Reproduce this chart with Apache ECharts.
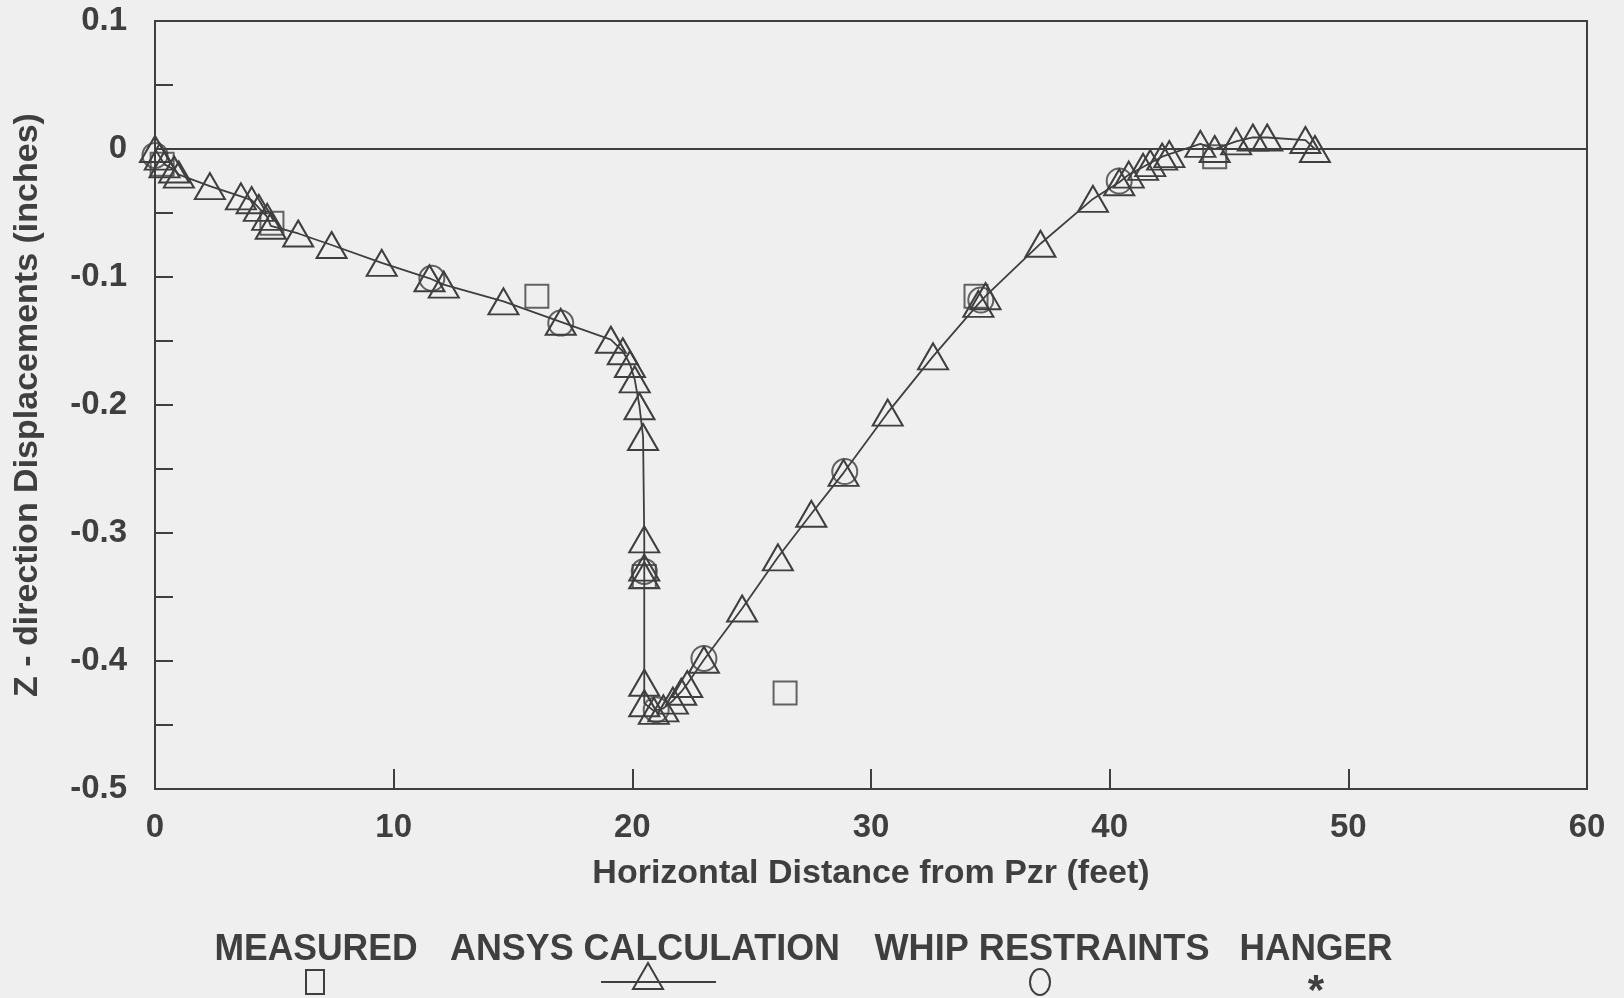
<!DOCTYPE html>
<html>
<head>
<meta charset="utf-8">
<script src="https://cdn.jsdelivr.net/npm/echarts@6/dist/echarts.min.js"></script>
<style>
html,body{margin:0;padding:0;background:#efefef;}
#c{width:1624px;height:998px;}
</style>
</head>
<body>
<div id="c"></div>
<script>
// ---- data ----
var xTicks = [0, 10, 20, 30, 40, 50, 60];
var yTicks = [0.1, 0, -0.1, -0.2, -0.3, -0.4, -0.5];

var ansysX = [0, 0.2, 0.4, 0.8, 1.0, 2.3, 3.6, 4.05, 4.35, 4.7, 4.85, 6.0, 7.4, 9.5, 11.5, 12.1, 14.6, 17.0, 19.1, 19.6, 19.9, 20.1, 20.3, 20.45, 20.5, 20.5, 20.5, 20.5, 20.5, 20.9, 21.3, 21.7, 22.05, 22.3, 23.0, 24.6, 26.1, 27.5, 28.85, 30.7, 32.6, 34.5, 34.8, 37.1, 39.3, 40.4, 40.8, 41.4, 41.7, 42.2, 42.5, 43.8, 44.4, 45.3, 46.0, 46.6, 48.2, 48.6];
var ansysY = [0.0, -0.006, -0.012, -0.016, -0.02, -0.029, -0.037, -0.04, -0.046, -0.053, -0.06, -0.066, -0.075, -0.089, -0.101, -0.106, -0.119, -0.135, -0.149, -0.158, -0.168, -0.18, -0.201, -0.225, -0.305, -0.327, -0.333, -0.417, -0.433, -0.439, -0.437, -0.431, -0.424, -0.418, -0.399, -0.359, -0.319, -0.285, -0.253, -0.206, -0.162, -0.121, -0.115, -0.074, -0.039, -0.026, -0.02, -0.014, -0.011, -0.006, -0.004, 0.004, 0.0, 0.006, 0.009, 0.009, 0.007, 0.0];

var measuredX = [0.3, 4.9, 16.0, 20.5, 26.4, 34.4, 44.4];
var measuredY = [-0.012, -0.058, -0.115, -0.334, -0.425, -0.115, -0.006];

var whipX = [0, 11.6, 17.0, 20.5, 21.0, 23.0, 28.9, 34.6, 40.4];
var whipY = [-0.005, -0.101, -0.136, -0.33, -0.438, -0.398, -0.252, -0.118, -0.025];

var hangerX = [];
var hangerY = [];

var legendNames = ['MEASURED', 'ANSYS CALCULATION', 'WHIP RESTRAINTS', 'HANGER'];

// ---- helpers ----
function pairs(xs, ys) { return xs.map(function (x, i) { return [x, ys[i]]; }); }

var INK = '#3f3f3f';
var BG = '#efefef';
var FONT = "'Liberation Sans', Arial, sans-serif";
var LEGFONT = "bold 37px 'Liberation Sans', Arial, sans-serif";

var mc = document.createElement('canvas').getContext('2d');
function fitScale(text, font, target) {
  mc.font = font;
  return target / mc.measureText(text).width;
}

var chart = echarts.init(document.getElementById('c'), null, { renderer: 'canvas' });

// legend drawn as graphic (text above, symbol below)
var legCenters = [316, 645, 1042, 1316];
var legWidths = [203, 390, 335, 153];
var graphics = [];
legendNames.forEach(function (n, i) {
  var s = fitScale(n, LEGFONT, legWidths[i]);
  graphics.push({
    type: 'text', x: legCenters[i], y: 950, scaleX: s, scaleY: 1,
    style: { text: n, font: LEGFONT, fill: INK, textAlign: 'center', textVerticalAlign: 'middle' }
  });
});
// symbols
graphics.push({ type: 'rect', shape: { x: 306, y: 970, width: 18, height: 24 }, style: { fill: 'none', stroke: INK, lineWidth: 2 } });
graphics.push({ type: 'line', shape: { x1: 601, y1: 982, x2: 716, y2: 982 }, style: { stroke: INK, lineWidth: 2 } });
graphics.push({ type: 'polygon', shape: { points: [[648, 963], [633, 989], [663, 989]] }, style: { fill: 'none', stroke: INK, lineWidth: 2 } });
graphics.push({ type: 'ellipse', shape: { cx: 1040, cy: 982, rx: 10, ry: 13 }, style: { fill: 'none', stroke: INK, lineWidth: 2 } });
graphics.push({ type: 'text', x: 1316, y: 992, style: { text: '*', font: "bold 42px 'Liberation Sans', Arial, sans-serif", fill: INK, textAlign: 'center', textVerticalAlign: 'middle' } });

var option = {
  backgroundColor: BG,
  animation: false,
  grid: { left: 155, right: 37, top: 21, bottom: 209, show: true, borderColor: INK, borderWidth: 2, backgroundColor: 'transparent' },
  xAxis: {
    type: 'value', min: xTicks[0], max: xTicks[xTicks.length - 1], interval: 10,
    name: 'Horizontal Distance from Pzr (feet)', nameLocation: 'middle', nameGap: 68,
    nameTextStyle: { fontFamily: FONT, fontSize: 34, fontWeight: 'bold', color: INK },
    axisLine: { onZero: false, lineStyle: { color: INK, width: 2 } },
    axisTick: { inside: true, length: 20, lineStyle: { color: INK, width: 2 } },
    axisLabel: { margin: 22, fontFamily: FONT, fontSize: 33, fontWeight: 'bold', color: INK },
    splitLine: { show: false }
  },
  yAxis: {
    type: 'value', min: yTicks[yTicks.length - 1], max: yTicks[0], interval: 0.1,
    name: 'Z - direction Displacements (inches)', nameLocation: 'middle', nameGap: 110,
    nameTextStyle: { fontFamily: FONT, fontSize: 34, fontWeight: 'bold', color: INK },
    axisLine: { onZero: false, lineStyle: { color: INK, width: 2 } },
    axisTick: { inside: true, length: 18, lineStyle: { color: INK, width: 2 } },
    minorTick: { show: true, splitNumber: 2, length: 18, lineStyle: { color: INK, width: 2 } },
    axisLabel: {
      margin: 28, fontFamily: FONT, fontSize: 33, fontWeight: 'bold', color: INK,
      formatter: function (v) { return String(Math.round(v * 10) / 10); }
    },
    splitLine: { show: false }
  },
  graphic: graphics,
  series: [
    {
      name: 'ANSYS CALCULATION', type: 'line', data: pairs(ansysX, ansysY),
      symbol: 'triangle', symbolSize: [30, 26], showAllSymbol: true,
      lineStyle: { color: INK, width: 1.8 },
      itemStyle: { color: 'rgba(0,0,0,0)', borderColor: INK, borderWidth: 2 },
      z: 3,
      markLine: {
        silent: true, symbol: ['none', 'none'], label: { show: false },
        lineStyle: { color: INK, width: 2, type: 'solid' },
        data: [{ yAxis: 0 }]
      }
    },
    {
      name: 'MEASURED', type: 'scatter', data: pairs(measuredX, measuredY),
      symbol: 'rect', symbolSize: 23,
      itemStyle: { color: 'rgba(0,0,0,0)', borderColor: INK, borderWidth: 2 }, z: 4
    },
    {
      name: 'WHIP RESTRAINTS', type: 'scatter', data: pairs(whipX, whipY),
      symbol: 'circle', symbolSize: 25,
      itemStyle: { color: 'rgba(0,0,0,0)', borderColor: INK, borderWidth: 2 }, z: 4
    },
    {
      name: 'HANGER', type: 'scatter', data: pairs(hangerX, hangerY),
      symbol: 'path://M0,-10L0,10M-8.7,-5L8.7,5M-8.7,5L8.7,-5', symbolSize: 20,
      itemStyle: { color: 'rgba(0,0,0,0)', borderColor: INK, borderWidth: 2 }, z: 4
    }
  ]
};
chart.setOption(option);
</script>
</body>
</html>
